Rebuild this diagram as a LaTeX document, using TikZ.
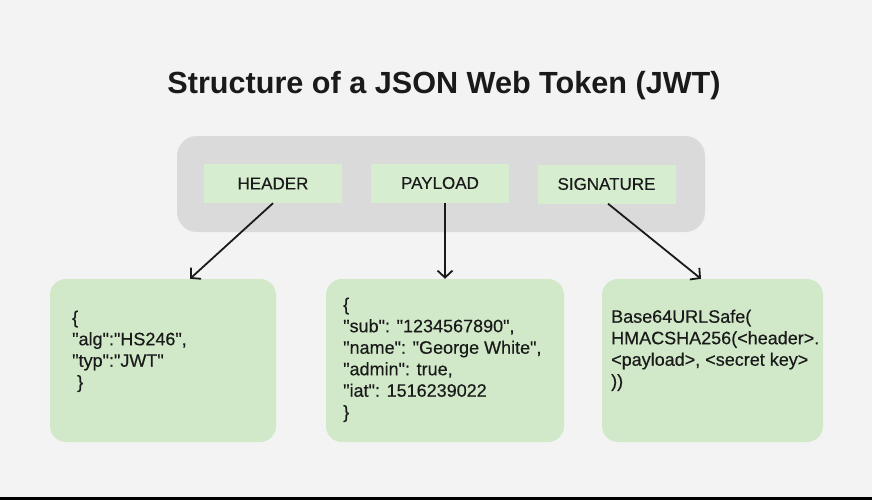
\documentclass[tikz,border=0pt]{standalone}
\usepackage{fontspec}
\setmainfont{Liberation Sans}
\newfontfamily\jsonfont{Liberation Sans}[FakeBold=0.4]
\usetikzlibrary{arrows.meta}
\definecolor{bgc}{HTML}{F3F3F3}
\definecolor{tokgray}{HTML}{DADADA}
\definecolor{lblgreen}{HTML}{D6EECF}
\definecolor{boxgreen}{HTML}{D1E9C9}
\definecolor{ink}{HTML}{1A1A1A}
\begin{document}
\begin{tikzpicture}[x=1pt,y=-1pt,
  lbl/.style={fill=lblgreen, draw=none, minimum width=138pt, minimum height=39pt, inner sep=0pt,
    font=\jsonfont\fontsize{17}{20}\selectfont, text=ink},
  part/.style={fill=boxgreen, draw=none, rounded corners=16pt, minimum height=163pt, inner sep=0pt},
  code/.style={anchor=north west, align=left, inner sep=0pt, text=ink,
    font=\jsonfont\fontsize{18}{21.5}\selectfont},
  conn/.style={draw=ink, line width=1.8pt, -{Straight Barb[length=7pt,width=15pt,line width=1.8pt]}}]
\fill[bgc] (0,0) rectangle (872,500);
\useasboundingbox (0,0) rectangle (872,500);
\fill[black] (0,497) rectangle (872,500);

\node[text=ink, font=\fontsize{30.6}{36}\selectfont\bfseries] (title) at (444,86) {Structure of a JSON Web Token (JWT)};

\node[fill=tokgray, draw=none, rounded corners=20pt, minimum width=528pt, minimum height=96pt] (token) at (441,184) {};

\node[lbl] (header) at (273,183.5) {HEADER};
\node[lbl] (payload) at (440,183) {PAYLOAD};
\node[lbl] (signature) at (606.5,184) {SIGNATURE};

\node[part, minimum width=226pt] (hbox) at (163,360.5) {};
\node[part, minimum width=238pt] (pbox) at (445,360.5) {};
\node[part, minimum width=221pt] (sbox) at (712.5,360.5) {};

\node[code] (htext) at (72,310.5) {\{\\"alg":"HS246",\\"typ":"JWT"\\\ \}};
\node[code] (ptext) at (343,297.5) {\{\\"sub": "1234567890",\\"name": "George White",\\"admin": true,\\"iat": 1516239022\\\}};
\node[code] (stext) at (611,309.5) {Base64URLSafe(\\HMACSHA256(<header>.\\<payload>, <secret key>\\))};

\draw[conn] (header.south) -- ([xshift=27pt]hbox.north);
\draw[conn] ([xshift=5pt]payload.south) -- (pbox.north);
\draw[conn] ([xshift=1.5pt]signature.south) -- ([xshift=-11.5pt]sbox.north);
\end{tikzpicture}
\end{document}
